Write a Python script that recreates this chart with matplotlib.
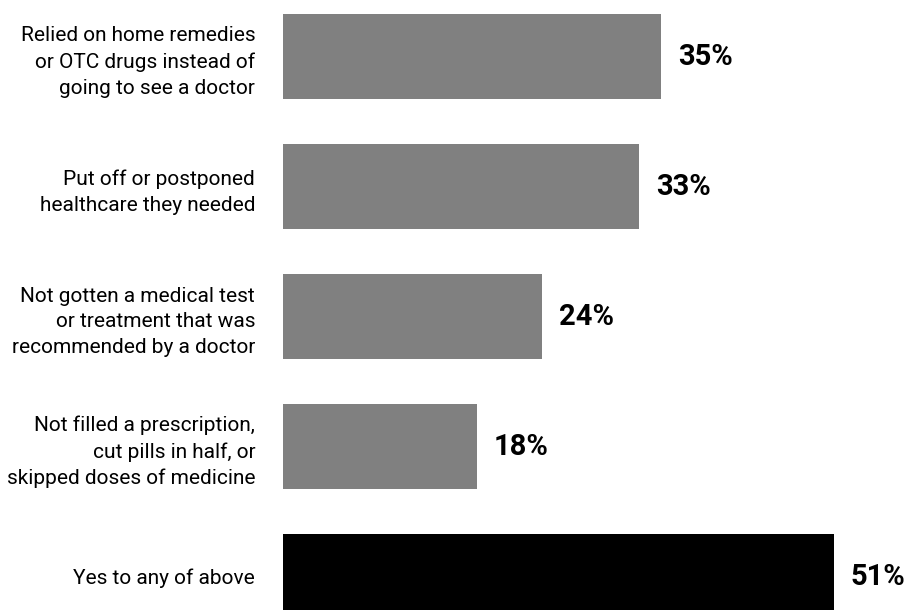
import matplotlib.pyplot as plt

# data
categories = [
    "Relied on home remedies\nor OTC drugs instead of\ngoing to see a doctor",
    "Put off or postponed\nhealthcare they needed",
    "Not gotten a medical test\nor treatment that was\nrecommended by a doctor",
    "Not filled a prescription,\ncut pills in half, or\nskipped doses of medicine",
    "Yes to any of above",
]
values = [35, 33, 24, 18, 51]
colors = ["#808080", "#808080", "#808080", "#808080", "#000000"]

plt.rcParams['font.family'] = ['Roboto', 'DejaVu Sans']

fig = plt.figure(figsize=(9.07, 6.10), dpi=100)
ax = fig.add_axes([283 / 907, 0, 624 / 907, 1])

pos = list(range(len(values)))
ax.barh(pos, values, height=0.654, color=colors)

for y, v in zip(pos, values):
    ax.annotate(f"{v}%", (v, y), xytext=(12, 0), textcoords="offset points",
                va="center", ha="left", fontsize=21, fontweight="bold")

ax.set_xlim(0, 624 / 10.8)
ax.set_ylim(4.257, -0.435)
ax.set_yticks(pos)
ax.set_yticklabels(categories, fontsize=15, linespacing=1.45)
ax.tick_params(axis="y", length=0, pad=20)
ax.set_xticks([])
for s in ax.spines.values():
    s.set_visible(False)

fig.savefig("out.png", dpi=100)
